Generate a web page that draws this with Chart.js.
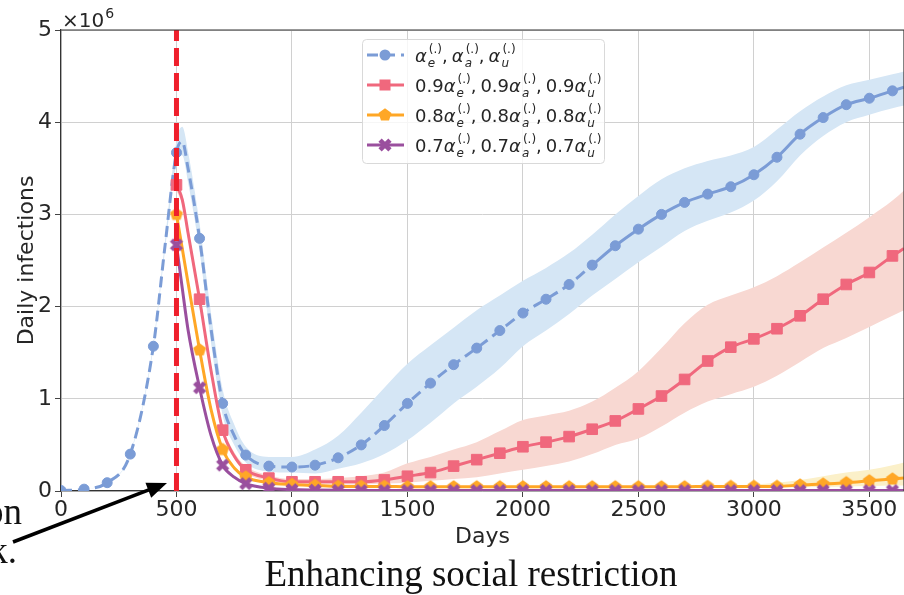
<!DOCTYPE html>
<html>
<head>
<meta charset="utf-8">
<script src="https://cdn.jsdelivr.net/npm/chart.js@4.4.0/dist/chart.umd.min.js"></script>
<style>
  html, body { margin: 0; padding: 0; background: #fff; overflow: hidden; }
  #wrap { position: relative; width: 905px; height: 595px; }
</style>
</head>
<body>
<div id="wrap"><canvas id="infections" width="905" height="595"></canvas></div>
<script>
// days since start of epidemic; markers are drawn on the 100-day grid
const days = [0, 100, 200, 300, 400, 450, 500, 525, 550, 600, 650, 700, 750, 800,
  900, 1000, 1100, 1200, 1300, 1400, 1500, 1600, 1700, 1800, 1900, 2000, 2100, 2200,
  2300, 2400, 2500, 2600, 2700, 2800, 2900, 3000, 3100, 3200, 3300, 3400, 3500, 3600, 3650];

// daily infections, millions
const baseRate = [0.005, 0.02, 0.09, 0.40, 1.57, 2.65, 3.67, 3.79, 3.50, 2.74, 1.75, 0.95, 0.60, 0.39,
  0.27, 0.26, 0.28, 0.36, 0.50, 0.71, 0.95, 1.17, 1.37, 1.55, 1.74, 1.93, 2.08, 2.24,
  2.45, 2.66, 2.84, 3.00, 3.13, 3.22, 3.30, 3.43, 3.62, 3.87, 4.05, 4.19, 4.26, 4.34, 4.38];
const baseLow = [0.005, 0.02, 0.09, 0.39, 1.55, 2.60, 3.55, 3.64, 3.35, 2.60, 1.60, 0.82, 0.50, 0.31,
  0.21, 0.20, 0.19, 0.24, 0.30, 0.40, 0.55, 0.74, 0.95, 1.13, 1.33, 1.57, 1.74, 1.92,
  2.12, 2.30, 2.48, 2.65, 2.82, 2.93, 3.02, 3.15, 3.36, 3.64, 3.85, 4.00, 4.08, 4.15, 4.18];
const baseHigh = [0.005, 0.02, 0.09, 0.41, 1.60, 2.70, 3.80, 3.95, 3.68, 2.90, 1.92, 1.10, 0.72, 0.48,
  0.37, 0.37, 0.45, 0.60, 0.85, 1.12, 1.38, 1.58, 1.77, 1.96, 2.12, 2.28, 2.42, 2.58,
  2.78, 3.00, 3.20, 3.38, 3.50, 3.58, 3.64, 3.73, 3.92, 4.12, 4.28, 4.40, 4.46, 4.52, 4.55];

const rate90 = [null, null, null, null, null, null, 3.32, 3.16, 2.80, 2.08, 1.30, 0.66, 0.38, 0.23,
  0.14, 0.10, 0.10, 0.10, 0.10, 0.12, 0.16, 0.20, 0.27, 0.34, 0.41, 0.48, 0.53, 0.59,
  0.67, 0.76, 0.89, 1.03, 1.21, 1.41, 1.56, 1.65, 1.76, 1.90, 2.08, 2.24, 2.37, 2.55, 2.63];
const low90 = [null, null, null, null, null, null, 3.26, 3.10, 2.74, 2.02, 1.25, 0.62, 0.35, 0.20,
  0.11, 0.08, 0.07, 0.07, 0.07, 0.08, 0.09, 0.11, 0.13, 0.15, 0.19, 0.23, 0.27, 0.32,
  0.40, 0.50, 0.57, 0.70, 0.85, 0.97, 1.05, 1.13, 1.25, 1.40, 1.55, 1.66, 1.78, 1.90, 1.96];
const high90 = [null, null, null, null, null, null, 3.38, 3.22, 2.86, 2.14, 1.36, 0.71, 0.42, 0.27,
  0.17, 0.13, 0.13, 0.14, 0.16, 0.20, 0.30, 0.37, 0.45, 0.53, 0.65, 0.77, 0.82, 0.87,
  0.97, 1.12, 1.30, 1.55, 1.82, 2.02, 2.12, 2.21, 2.33, 2.48, 2.64, 2.80, 2.97, 3.15, 3.26];

const rate80 = [null, null, null, null, null, null, 3.00, 2.63, 2.26, 1.53, 0.88, 0.45, 0.25, 0.15,
  0.09, 0.07, 0.06, 0.05, 0.05, 0.05, 0.045, 0.045, 0.045, 0.045, 0.045, 0.045, 0.045, 0.045,
  0.045, 0.045, 0.045, 0.045, 0.045, 0.05, 0.05, 0.05, 0.05, 0.065, 0.075, 0.09, 0.11, 0.13, 0.14];
const low80 = [null, null, null, null, null, null, 2.99, 2.62, 2.25, 1.52, 0.87, 0.44, 0.24, 0.14,
  0.08, 0.06, 0.05, 0.04, 0.04, 0.04, 0.035, 0.035, 0.035, 0.035, 0.035, 0.035, 0.035, 0.035,
  0.035, 0.035, 0.035, 0.035, 0.035, 0.035, 0.035, 0.035, 0.035, 0.04, 0.045, 0.05, 0.055, 0.06, 0.06];
const high80 = [null, null, null, null, null, null, 3.01, 2.64, 2.27, 1.54, 0.89, 0.46, 0.26, 0.16,
  0.10, 0.08, 0.07, 0.06, 0.06, 0.06, 0.055, 0.055, 0.055, 0.055, 0.055, 0.055, 0.055, 0.055,
  0.055, 0.055, 0.055, 0.055, 0.055, 0.058, 0.06, 0.07, 0.09, 0.12, 0.16, 0.20, 0.23, 0.28, 0.31];

const rate70 = [null, null, null, null, null, null, 2.67, 2.20, 1.75, 1.12, 0.60, 0.28, 0.15, 0.08,
  0.03, 0.015, 0.01, 0.007, 0.005, 0.005, 0.005, 0.005, 0.005, 0.005, 0.005, 0.005, 0.005, 0.005,
  0.005, 0.005, 0.005, 0.005, 0.005, 0.005, 0.005, 0.005, 0.005, 0.005, 0.005, 0.005, 0.005, 0.005, 0.005];

const restrictionDay = 500;
const xTicks = [0, 500, 1000, 1500, 2000, 2500, 3000, 3500];
const yTicks = [0, 1, 2, 3, 4, 5];
const scaleFactors = ["", "0.9", "0.8", "0.7"];

const FONT = "'DejaVu Sans', sans-serif";
const SERIF = "'Liberation Serif', 'Times New Roman', serif";
const BLUE = "#7b9cd6", RED = "#f0687d", ORANGE = "#ffa726", PURPLE = "#9a4f9e";

function pts(values) {
  return days.map((d, i) => ({ x: d, y: values[i] })).filter(p => p.y !== null);
}

function markerCanvas(color, shape) {
  const c = document.createElement("canvas");
  c.width = c.height = 16;
  const g = c.getContext("2d");
  g.fillStyle = color;
  g.translate(8, 8);
  g.beginPath();
  if (shape === "pentagon") {
    for (let k = 0; k < 5; k++) {
      const a = -Math.PI / 2 + k * 2 * Math.PI / 5;
      g.lineTo(6.8 * Math.cos(a), 6.8 * Math.sin(a));
    }
    g.closePath();
    g.fill();
  } else {
    g.rotate(Math.PI / 4);
    g.fillRect(-7, -2.3, 14, 4.6);
    g.fillRect(-2.3, -7, 4.6, 14);
  }
  return c;
}
const pentagon = markerCanvas(ORANGE, "pentagon");
const thickX = markerCanvas(PURPLE, "x");

const onGrid = r => c => (c.raw && c.raw.x % 100 === 0 ? r : 0);

function band(values, color) {
  return { data: pts(values), borderWidth: 0, pointRadius: 0, fill: color ? "-1" : false,
    backgroundColor: color || "transparent", order: 10, cubicInterpolationMode: "monotone" };
}

function series(values, color, style, radius, order) {
  return { data: pts(values), borderColor: color, backgroundColor: color, borderWidth: 3,
    pointStyle: style, pointRadius: onGrid(radius), pointBorderWidth: 1,
    pointBorderColor: color, pointBackgroundColor: color, fill: false, order: order,
    cubicInterpolationMode: "monotone" };
}

const baseSeries = series(baseRate, BLUE, "circle", 5, 4);
baseSeries.segment = { borderDash: c => (c.p0.parsed.x < 2300 ? [11, 6] : undefined) };

const datasets = [
  band(baseLow), band(baseHigh, "#d5e6f5"),
  band(low90), band(high90, "#f8d8d2"),
  band(low80), band(high80, "#fbf0c9"),
  baseSeries,
  series(rate90, RED, "rect", 7.5, 3),
  series(rate80, ORANGE, pentagon, 6, 2),
  series(rate70, PURPLE, thickX, 6, 1),
  { data: [{ x: restrictionDay, y: 0 }, { x: restrictionDay, y: 5 }], borderColor: "#ef1f2c",
    borderWidth: 5, borderDash: [18, 7], pointRadius: 0, fill: false, order: 0 }
];
datasets.forEach(d => { d.clip = 0; });

// one legend label: [prefix]α_e^(.), [prefix]α_a^(.), [prefix]α_u^(.)
function drawLabelRow(ctx, x, y, prefix) {
  const big = "18px " + FONT, bigIt = "italic 18px " + FONT;
  const small = "12px " + FONT, smallIt = "italic 12px " + FONT;
  ["e", "a", "u"].forEach((s, i) => {
    if (i > 0) { ctx.font = big; ctx.fillText(",", x, y); x += ctx.measureText(",").width + 4; }
    if (prefix) { ctx.font = big; ctx.fillText(prefix, x, y); x += ctx.measureText(prefix).width; }
    ctx.font = bigIt; ctx.fillText("α", x, y); x += ctx.measureText("α").width + 1;
    ctx.font = smallIt; ctx.fillText(s, x, y + 5); const w1 = ctx.measureText(s).width;
    ctx.font = small; ctx.fillText("(.)", x + 1, y - 9); const w2 = ctx.measureText("(.)").width;
    x += Math.max(w1, w2 + 1);
  });
}

const decorations = {
  id: "decorations",
  afterDraw(chart) {
    const { ctx, chartArea: a } = chart;
    ctx.save();
    // top and right spines
    ctx.strokeStyle = "#333";
    ctx.lineWidth = 1.2;
    ctx.beginPath();
    ctx.moveTo(a.left, a.top); ctx.lineTo(a.right, a.top); ctx.lineTo(a.right, a.bottom);
    ctx.stroke();

    ctx.fillStyle = "#262626";
    ctx.textBaseline = "alphabetic";
    ctx.textAlign = "left";
    ctx.font = "20px " + FONT;
    ctx.fillText("×10", 62, 27);
    const w = ctx.measureText("×10").width;
    ctx.font = "14px " + FONT;
    ctx.fillText("6", 63 + w, 18);

    ctx.font = "22px " + FONT;
    ctx.textAlign = "center";
    ctx.fillText("Days", (a.left + a.right) / 2, 543);
    ctx.save();
    ctx.translate(33, (a.top + a.bottom) / 2);
    ctx.rotate(-Math.PI / 2);
    ctx.fillText("Daily infections", 0, 0);
    ctx.restore();

    ctx.fillStyle = "#111";
    ctx.font = "37px " + SERIF;
    ctx.fillText("Enhancing social restriction", 471, 586);
    ctx.textAlign = "right";
    ctx.fillText("on", 22, 524);
    ctx.fillText("k.", 17, 563);

    // arrow pointing at the restriction day
    const tip = { x: 167, y: 483 }, tail = { x: 13, y: 542 };
    const ang = Math.atan2(tip.y - tail.y, tip.x - tail.x);
    ctx.strokeStyle = "#000";
    ctx.fillStyle = "#000";
    ctx.lineWidth = 3.5;
    ctx.beginPath();
    ctx.moveTo(tail.x, tail.y);
    ctx.lineTo(tip.x - 16 * Math.cos(ang), tip.y - 16 * Math.sin(ang));
    ctx.stroke();
    ctx.beginPath();
    ctx.moveTo(tip.x, tip.y);
    ctx.lineTo(tip.x - 20 * Math.cos(ang) + 8 * Math.sin(ang), tip.y - 20 * Math.sin(ang) - 8 * Math.cos(ang));
    ctx.lineTo(tip.x - 20 * Math.cos(ang) - 8 * Math.sin(ang), tip.y - 20 * Math.sin(ang) + 8 * Math.cos(ang));
    ctx.closePath();
    ctx.fill();

    // legend
    const bx = 362, by = 39, bw = 242, bh = 124;
    ctx.beginPath();
    ctx.roundRect(bx + 0.5, by + 0.5, bw, bh, 4);
    ctx.fillStyle = "rgba(255,255,255,0.8)";
    ctx.fill();
    ctx.strokeStyle = "#d9d9d9";
    ctx.lineWidth = 1;
    ctx.stroke();

    const colors = [BLUE, RED, ORANGE, PURPLE];
    for (let r = 0; r < 4; r++) {
      const cy = 55 + r * 30;
      ctx.strokeStyle = colors[r];
      ctx.fillStyle = colors[r];
      ctx.lineWidth = 3;
      ctx.setLineDash(r === 0 ? [11, 6] : []);
      ctx.beginPath();
      ctx.moveTo(367, cy); ctx.lineTo(404, cy);
      ctx.stroke();
      ctx.setLineDash([]);
      if (r === 0) { ctx.beginPath(); ctx.arc(385, cy, 5.5, 0, Math.PI * 2); ctx.fill(); }
      if (r === 1) ctx.fillRect(379.5, cy - 5.5, 11, 11);
      if (r === 2) ctx.drawImage(pentagon, 377, cy - 8);
      if (r === 3) ctx.drawImage(thickX, 377, cy - 8);
      ctx.fillStyle = "#262626";
      ctx.textAlign = "left";
      drawLabelRow(ctx, 415, cy + 7, scaleFactors[r]);
    }
    ctx.restore();
  }
};

new Chart(document.getElementById("infections"), {
  type: "line",
  data: { datasets },
  plugins: [decorations],
  options: {
    responsive: false,
    animation: false,
    devicePixelRatio: 1,
    events: [],
    layout: { autoPadding: false, padding: { top: 30, left: 0, right: 1, bottom: 0 } },
    plugins: { legend: { display: false }, tooltip: { enabled: false } },
    scales: {
      x: {
        type: "linear", min: 0, max: 3650,
        afterBuildTicks: s => { s.ticks = xTicks.map(v => ({ value: v })); },
        afterFit: s => { s.height = 104; s.paddingLeft = 0; s.paddingRight = 0; },
        grid: { color: "#d0d0d0", lineWidth: 1, tickLength: 6, tickColor: "#444" },
        border: { color: "#333", width: 1.2 },
        ticks: { font: { family: FONT, size: 22 }, color: "#262626", padding: 0,
          maxRotation: 0, autoSkip: false, callback: v => String(v) }
      },
      y: {
        type: "linear", min: 0, max: 5,
        afterBuildTicks: s => { s.ticks = yTicks.map(v => ({ value: v })); },
        afterFit: s => { s.width = 61; s.paddingTop = 0; s.paddingBottom = 0; },
        grid: { color: "#d0d0d0", lineWidth: 1, tickLength: 6, tickColor: "#444" },
        border: { color: "#333", width: 1.2 },
        ticks: { font: { family: FONT, size: 22 }, color: "#262626", padding: 3,
          callback: v => String(v) }
      }
    }
  }
});
</script>
</body>
</html>
